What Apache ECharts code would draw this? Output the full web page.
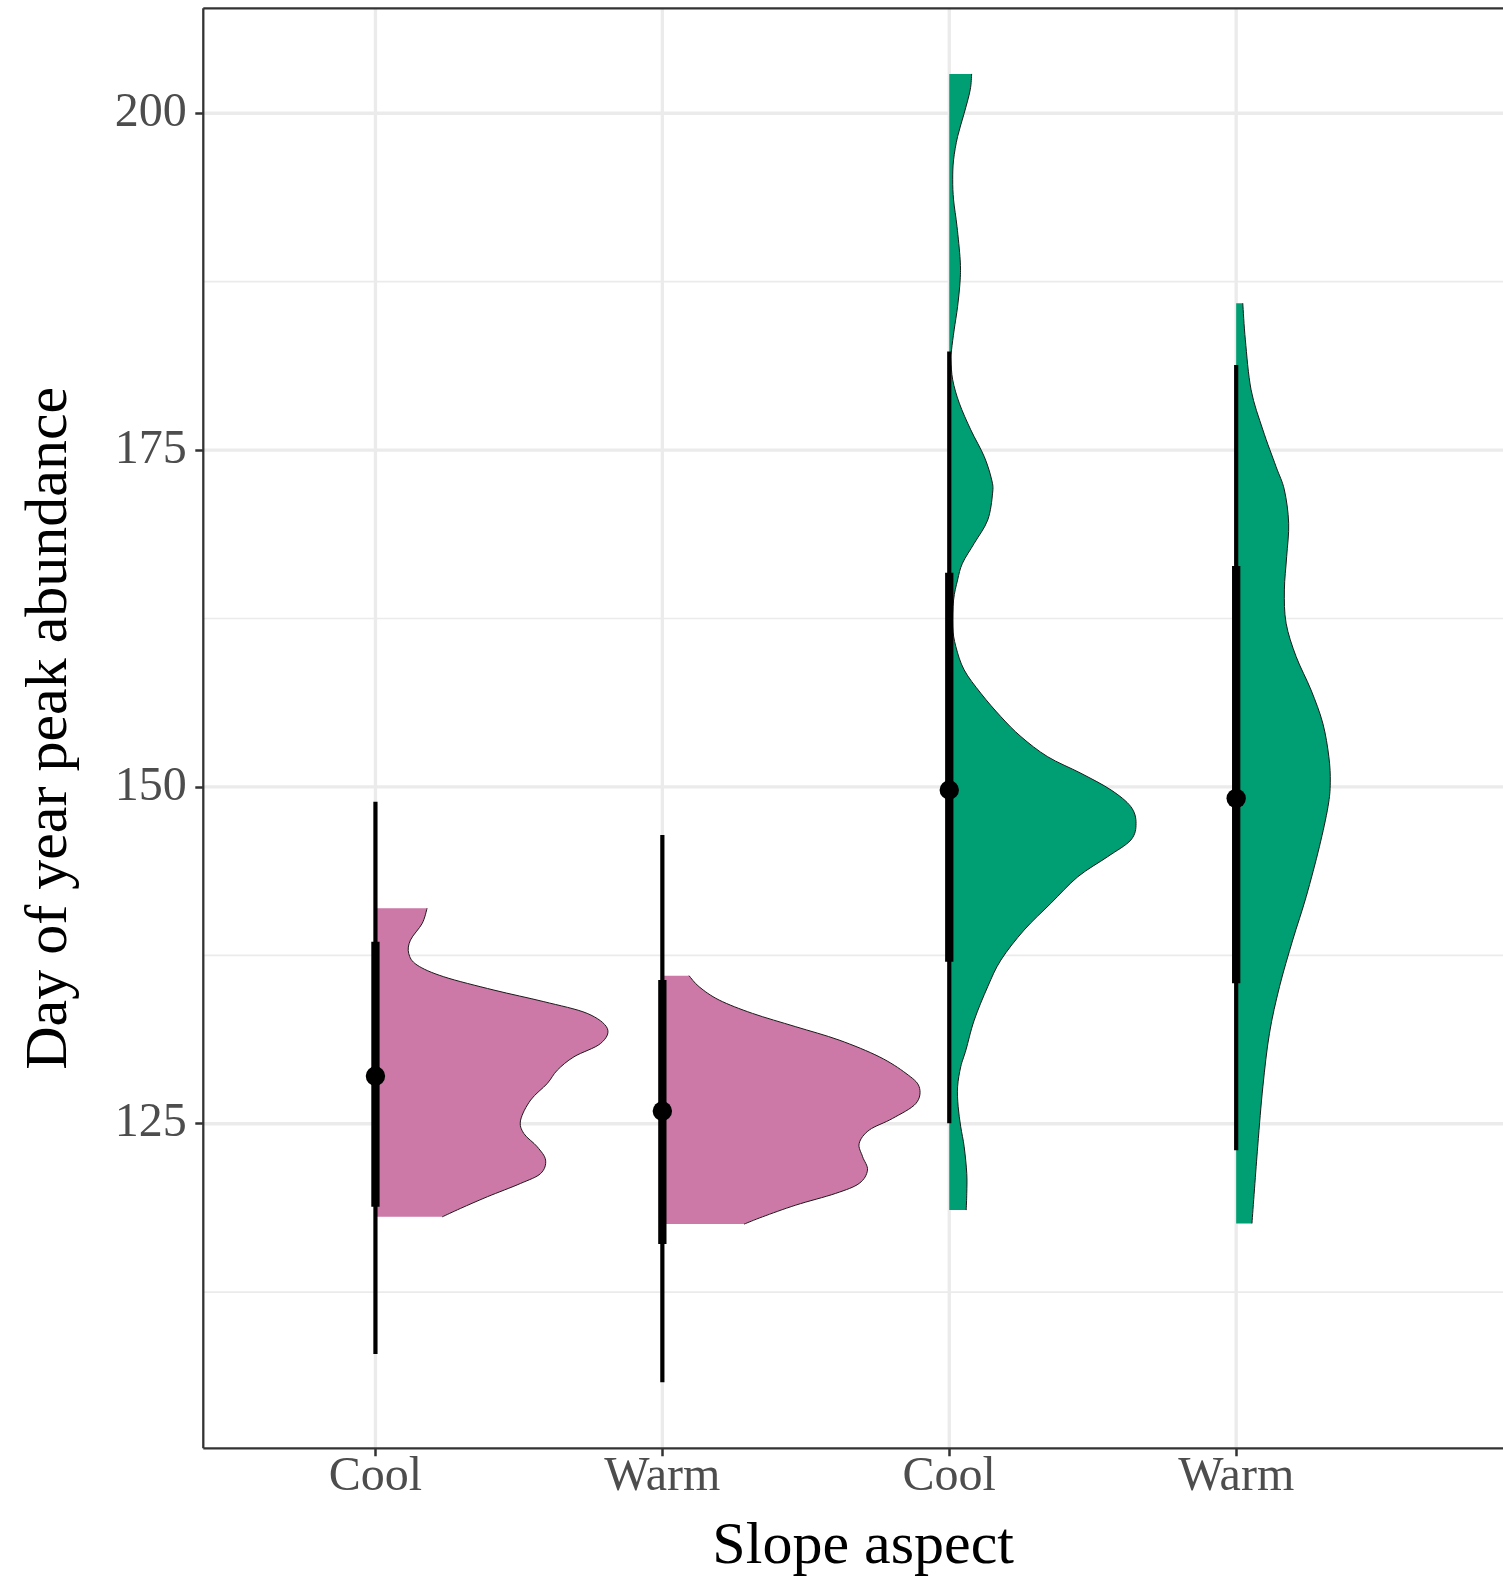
<!DOCTYPE html>
<html>
<head>
<meta charset="utf-8">
<script src="https://cdn.jsdelivr.net/npm/echarts@6/dist/echarts.min.js"></script>
<style>
  html, body { margin: 0; padding: 0; background: #fff; }
  #chart { width: 1503px; height: 1578px; }
</style>
</head>
<body>
<div id="chart"></div>
<script>
// ---------- data ----------
const categories = ['Cool', 'Warm', 'Cool', 'Warm'];
const categoryPos = [1, 2, 3, 4];
const slabColors = ['#CC79A7', '#CC79A7', '#009E73', '#009E73'];

const yTicks = [125, 150, 175, 200];
const yMinorGrid = [112.5, 137.5, 162.5, 187.5];

// half-violin outlines: [day of year, slab width in category units], top to bottom
const slabCool1 = [
  [140.99, 0.180], [139.87, 0.163], [138.63, 0.122], [137.64, 0.116], [136.78, 0.145],
  [135.91, 0.238], [134.92, 0.413], [134.06, 0.587], [133.19, 0.738], [132.08, 0.808],
  [130.96, 0.785], [129.97, 0.692], [128.98, 0.634], [127.99, 0.599], [126.76, 0.541],
  [125.27, 0.506], [124.28, 0.517], [123.29, 0.564], [122.30, 0.593], [121.31, 0.576],
  [120.57, 0.506], [119.58, 0.390], [118.71, 0.296], [118.09, 0.233]
];
const slabWarm1 = [
  [135.99, 0.093], [135.17, 0.128], [134.18, 0.198], [133.19, 0.314], [132.20, 0.465],
  [131.21, 0.616], [129.97, 0.756], [128.74, 0.849], [127.75, 0.895], [126.51, 0.884],
  [125.39, 0.802], [124.53, 0.721], [123.54, 0.686], [122.55, 0.698], [121.56, 0.715],
  [120.57, 0.686], [119.83, 0.604], [118.96, 0.465], [118.09, 0.349], [117.55, 0.285]
];
const slabCool2 = [
  [202.92, 0.078], [201.74, 0.073], [200.00, 0.052], [198.27, 0.029], [196.54, 0.015],
  [195.06, 0.012], [193.57, 0.015], [191.59, 0.027], [189.12, 0.038], [187.63, 0.038],
  [185.65, 0.029], [183.92, 0.017], [182.44, 0.008], [181.69, 0.006], [180.21, 0.012],
  [178.48, 0.035], [176.50, 0.075], [174.51, 0.122], [172.78, 0.148], [171.80, 0.151],
  [169.81, 0.134], [168.08, 0.087], [166.60, 0.046], [165.36, 0.029], [163.87, 0.015],
  [161.89, 0.012], [160.41, 0.023], [158.68, 0.052], [156.95, 0.110], [155.21, 0.180],
  [153.73, 0.250], [152.24, 0.343], [151.01, 0.459], [149.77, 0.564], [148.53, 0.633],
  [147.30, 0.651], [146.06, 0.633], [144.82, 0.552], [143.33, 0.448], [141.36, 0.354],
  [139.38, 0.261], [137.15, 0.180], [135.17, 0.134], [132.69, 0.087], [130.47, 0.058],
  [129.23, 0.040], [127.74, 0.029], [126.26, 0.031], [124.77, 0.040], [123.29, 0.052],
  [121.31, 0.061], [119.83, 0.061], [118.59, 0.059]
];
const slabWarm2 = [
  [185.90, 0.023], [183.18, 0.032], [179.47, 0.052], [176.50, 0.093], [173.77, 0.139],
  [172.04, 0.168], [169.57, 0.183], [167.09, 0.176], [164.62, 0.168], [162.15, 0.174],
  [159.67, 0.209], [157.19, 0.261], [154.72, 0.302], [152.24, 0.323], [150.30, 0.328],
  [148.53, 0.320], [145.56, 0.290], [141.85, 0.244], [138.63, 0.197], [135.17, 0.151],
  [131.71, 0.116], [127.74, 0.093], [123.29, 0.075], [117.60, 0.055]
];
const slabs = [slabCool1, slabWarm1, slabCool2, slabWarm2];

// point intervals: median, 66% interval, 95% interval
const medians = [128.54, 125.94, 149.77, 149.15];
const interval66 = [[118.84, 138.51], [116.07, 135.66], [137.02, 165.90], [135.42, 166.40]];
const interval95 = [[107.90, 148.90], [105.81, 146.43], [125.03, 182.31], [123.04, 181.32]];

// ---------- chart ----------
const FONT = "'Liberation Serif', 'Times New Roman', serif";
const chart = echarts.init(document.getElementById('chart'), null, { renderer: 'canvas' });

function smoothSegments(pts) {
  let d = '';
  for (let i = 0; i < pts.length - 1; i++) {
    const p0 = pts[i - 1] || pts[i];
    const p1 = pts[i];
    const p2 = pts[i + 1];
    const p3 = pts[i + 2] || pts[i + 1];
    const c1x = p1[0] + (p2[0] - p0[0]) / 6, c1y = p1[1] + (p2[1] - p0[1]) / 6;
    const c2x = p2[0] - (p3[0] - p1[0]) / 6, c2y = p2[1] - (p3[1] - p1[1]) / 6;
    d += ' C' + c1x + ',' + c1y + ' ' + c2x + ',' + c2y + ' ' + p2[0] + ',' + p2[1];
  }
  return d;
}

const option = {
  animation: false,
  backgroundColor: '#ffffff',
  grid: {
    left: 203.3, top: 8.3, right: 0, bottom: 129.7,
    show: false, containLabel: false, outerBoundsMode: 'none'
  },
  xAxis: {
    type: 'value', min: 0.4, max: 4.93,
    axisLine: { show: false },
    splitLine: { show: false },
    axisTick: { show: true, customValues: categoryPos, length: 8, lineStyle: { color: '#333333', width: 2.5 } },
    axisLabel: {
      customValues: categoryPos, margin: 5,
      formatter: v => categories[Math.round(v) - 1] || '',
      fontFamily: FONT, fontSize: 48, color: '#4D4D4D'
    },
    name: 'Slope aspect', nameLocation: 'middle', nameGap: 69,
    nameTextStyle: { fontFamily: FONT, fontSize: 60, color: '#000000', padding: [0, 0, 0, 20] }
  },
  yAxis: {
    type: 'value', min: 100.91, max: 207.79,
    axisLine: { show: false },
    splitLine: { show: false },
    axisTick: { show: true, customValues: yTicks, length: 8, lineStyle: { color: '#333333', width: 2.5 } },
    axisLabel: {
      customValues: yTicks, margin: 16.6,
      fontFamily: FONT, fontSize: 48, color: '#4D4D4D'
    },
    name: 'Day of year peak abundance', nameLocation: 'middle', nameRotate: 90, nameGap: 123,
    nameTextStyle: { fontFamily: FONT, fontSize: 60, color: '#000000' }
  },
  series: [
    {
      type: 'custom', name: 'grid', silent: true, z: 0,
      data: [[1, 150]],
      renderItem: (params, api) => {
        const cs = params.coordSys;
        const children = [];
        yMinorGrid.forEach(v => {
          const y = api.coord([1, v])[1];
          children.push({ type: 'line', shape: { x1: cs.x, y1: y, x2: cs.x + cs.width, y2: y },
            style: { stroke: '#EBEBEB', lineWidth: 1.7 } });
        });
        yTicks.forEach(v => {
          const y = api.coord([1, v])[1];
          children.push({ type: 'line', shape: { x1: cs.x, y1: y, x2: cs.x + cs.width, y2: y },
            style: { stroke: '#EBEBEB', lineWidth: 3.3 } });
        });
        categoryPos.forEach(c => {
          const x = api.coord([c, 150])[0];
          children.push({ type: 'line', shape: { x1: x, y1: cs.y, x2: x, y2: cs.y + cs.height },
            style: { stroke: '#EBEBEB', lineWidth: 3.3 } });
        });
        // panel border (top, left, bottom; right side lies at the page edge)
        const border = { stroke: '#333333', lineWidth: 2.3 };
        children.push({ type: 'line', shape: { x1: cs.x, y1: cs.y, x2: cs.x + cs.width + 5, y2: cs.y }, style: border });
        children.push({ type: 'line', shape: { x1: cs.x, y1: cs.y, x2: cs.x, y2: cs.y + cs.height }, style: border });
        children.push({ type: 'line', shape: { x1: cs.x, y1: cs.y + cs.height, x2: cs.x + cs.width + 5, y2: cs.y + cs.height }, style: border });
        return { type: 'group', children };
      }
    },
    {
      type: 'custom', name: 'slabs', silent: true, z: 2,
      data: categoryPos.map((c, i) => [c, medians[i]]),
      renderItem: (params, api) => {
        const i = params.dataIndex;
        const xc = categoryPos[i];
        const pts = slabs[i].map(p => api.coord([xc + p[1], p[0]]));
        const baseTop = api.coord([xc, slabs[i][0][0]]);
        const baseBot = api.coord([xc, slabs[i][slabs[i].length - 1][0]]);
        const curve = smoothSegments(pts);
        const fillPath = 'M' + baseTop[0] + ',' + baseTop[1] + ' L' + pts[0][0] + ',' + pts[0][1] +
          curve + ' L' + baseBot[0] + ',' + baseBot[1] + ' Z';
        const linePath = 'M' + pts[0][0] + ',' + pts[0][1] + curve;
        return {
          type: 'group',
          children: [
            { type: 'path', shape: { pathData: fillPath }, style: { fill: slabColors[i], stroke: null } },
            { type: 'path', shape: { pathData: linePath }, style: { fill: null, stroke: '#1a1a1a', lineWidth: 1 } }
          ]
        };
      }
    },
    {
      type: 'custom', name: 'intervals', silent: true, z: 3,
      data: categoryPos.map((c, i) => [c, medians[i]]),
      renderItem: (params, api) => {
        const i = params.dataIndex;
        const xc = categoryPos[i];
        const a95 = api.coord([xc, interval95[i][0]]);
        const b95 = api.coord([xc, interval95[i][1]]);
        const a66 = api.coord([xc, interval66[i][0]]);
        const b66 = api.coord([xc, interval66[i][1]]);
        const m = api.coord([xc, medians[i]]);
        return {
          type: 'group',
          children: [
            { type: 'line', shape: { x1: a95[0], y1: a95[1], x2: b95[0], y2: b95[1] },
              style: { stroke: '#000', lineWidth: 4.2, lineCap: 'butt' } },
            { type: 'line', shape: { x1: a66[0], y1: a66[1], x2: b66[0], y2: b66[1] },
              style: { stroke: '#000', lineWidth: 8.3, lineCap: 'butt' } },
            { type: 'circle', shape: { cx: m[0], cy: m[1], r: 9.7 }, style: { fill: '#000' } }
          ]
        };
      }
    }
  ]
};
chart.setOption(option);
</script>
</body>
</html>
